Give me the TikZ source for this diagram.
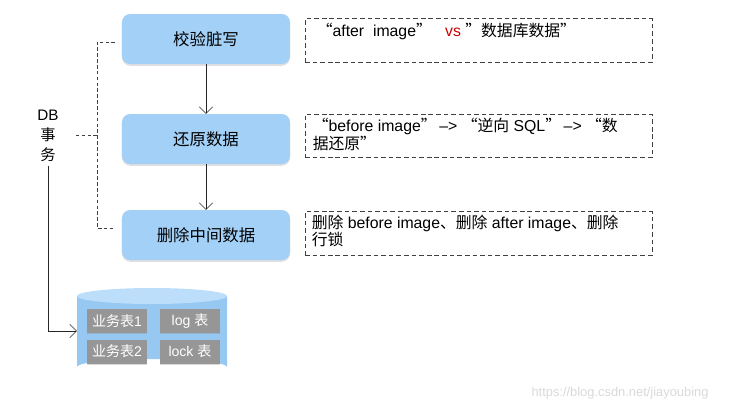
\documentclass[tikz,border=0pt]{standalone}
\usepackage{fontspec}
\setmainfont{Liberation Sans}
\newfontfamily\cjk{Noto Sans CJK SC}
\usepackage{xcolor}
\usepackage{tikz}
\usetikzlibrary{positioning, arrows.meta, shadows, calc}

\definecolor{stepblue}{RGB}{163,208,246}
\definecolor{dbblue}{RGB}{150,200,242}
\definecolor{dbtop}{RGB}{188,222,250}
\definecolor{tblgray}{RGB}{150,150,150}

\begin{document}
\begin{tikzpicture}[
    x=0.03cm, y=-0.03cm,
    stepbox/.style={fill=stepblue, rounded corners=7pt, minimum width=5.04cm, minimum height=1.5cm,
        text centered, font=\cjk\fontsize{14}{15}\selectfont,
        drop shadow={opacity=0.25, shadow xshift=0pt, shadow yshift=-1.5pt}},
    note/.style={draw=black!75, dash pattern=on 4pt off 2.5pt, line width=0.8pt,
        minimum width=10.41cm, minimum height=1.3cm},
    notetext/.style={anchor=north west, align=left, inner sep=0pt, font=\fontsize{13.5}{15.3}\selectfont},
    tbl/.style={fill=tblgray, text=white, minimum width=1.8cm, minimum height=0.72cm,
        font=\fontsize{12}{14}\selectfont,
        drop shadow={opacity=0.3, shadow xshift=0pt, shadow yshift=-1pt}},
    brace/.style={densely dashed, thin, black!75},
    arr/.style={-{Straight Barb[length=2mm]}, thin, black!85}
]
\useasboundingbox (0,0) rectangle (736,412);

% Steps
\node[stepbox] (check) at (206,39) {校验脏写};
\node[stepbox] (restore) at (206,139) {还原数据};
\node[stepbox] (clean) at (206,235) {删除中间数据};

% Notes
\node[note] (n1) at (478.5,40.5) {};
\node[notetext] at ([shift={(12,5)}]n1.north west) {{\cjk “}after\ \ image{\cjk ”}\ \ \ {\color{red!80!black}vs} {\cjk ”数据库数据”}};
\node[note] (n2) at (478.5,136) {};
\node[notetext] at ([shift={(8,4)}]n2.north west) {{\cjk “}before image{\cjk ”}\,–> {\cjk “逆向} SQL{\cjk ”}\,–> {\cjk “数}\\{\cjk 据还原”}};
\node[note] (n3) at (478.5,233.5) {};
\node[notetext] at ([shift={(7,3)}]n3.north west) {{\cjk 删除} before image{\cjk 、删除} after image{\cjk 、删除}\\{\cjk 行锁}};

% Arrows between steps
\draw[arr] (check.south) -- (restore.north);
\draw[arr] (restore.south) -- (clean.north);

% DB transaction brace
\node[align=center, inner sep=0pt, font=\fontsize{13}{17}\selectfont] (tx) at (48,136) {DB\\{\cjk 事}\\{\cjk 务}};
\coordinate (b1) at (115,42);
\coordinate (b3) at (115,228);
\coordinate (bm) at (97,135);
\draw[brace] (b1) -- ++(-18,0) |- (b3);
\draw[brace] (bm) -- (76,135);

% Database
\fill[dbblue] (77,296) -- (77,367) arc[start angle=180, end angle=360, x radius=75, y radius=8] -- (227,296) -- cycle;
\fill[dbtop] (152,296) ellipse[x radius=75, y radius=8];
\path node[minimum width=4.5cm, minimum height=2.4cm, inner sep=0pt] (db) at (152,331) {};
\node[tbl] (t1) at (117,321) {{\cjk 业务表}1};
\node[tbl] (t2) at (190,321) {log {\cjk 表}};
\node[tbl] (t3) at (117,351.5) {{\cjk 业务表}2};
\node[tbl] (t4) at (190,351.5) {lock {\cjk 表}};

\draw[arr] (tx.south) ++(0,4) |- (db.west);

% Watermark
\node[text=black!15, font=\fontsize{11}{12}\selectfont] (mark) at (620,393) {https://blog.csdn.net/jiayoubing};

\end{tikzpicture}
\end{document}
